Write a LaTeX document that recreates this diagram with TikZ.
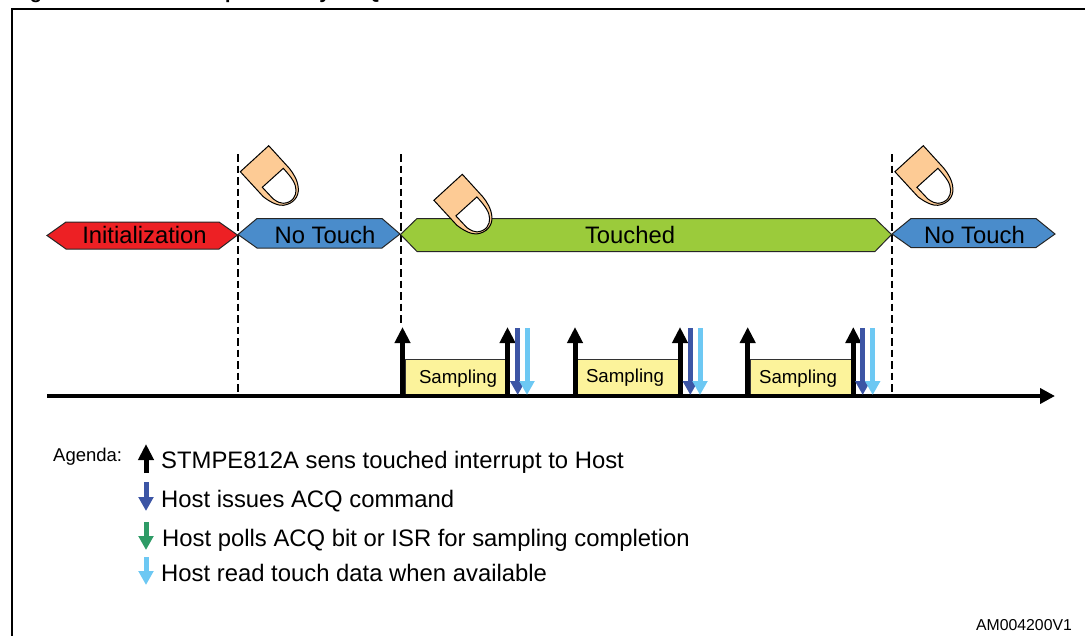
\documentclass[tikz,border=0pt]{standalone}
\usepackage{fontspec}
\setmainfont{Liberation Sans}
\usetikzlibrary{arrows.meta}
\definecolor{redfill}{HTML}{ED2024}
\definecolor{bluefill}{HTML}{4A8CCB}
\definecolor{greenfill}{HTML}{9BCB3B}
\definecolor{skin}{HTML}{FDCB95}
\definecolor{sampfill}{HTML}{FCF39B}
\definecolor{darkb}{HTML}{3C55A5}
\definecolor{lightb}{HTML}{6DC8F3}
\definecolor{greenb}{HTML}{2E9B66}
\tikzset{
  x=1pt,y=-1pt,
  hexa/.style={draw=black!85,line width=1pt,line join=miter},
  dashline/.style={draw=black,line width=1.2pt,dash pattern=on 7.5pt off 4pt},
  upar/.style={draw=black,line width=5pt,-{Triangle[length=16pt,width=15pt]}},
  dnbl/.style={draw=darkb,line width=5pt,-{Triangle[length=14pt,width=14.5pt]}},
  dnlt/.style={draw=lightb,line width=5pt,-{Triangle[length=14pt,width=14.5pt]}},
  dngr/.style={draw=greenb,line width=5pt,-{Triangle[length=14pt,width=14.5pt]}},
  sampbox/.style={fill=sampfill,draw=black!80,line width=.9pt,inner sep=0pt,anchor=north west},
  legend/.style={inner sep=0pt,anchor=base west,font=\fontsize{23.85}{26}\selectfont},
  steplabel/.style={inner sep=0pt,font=\fontsize{23.8}{26}\selectfont},
  samplabel/.style={inner sep=0pt,font=\fontsize{18.7}{22}\selectfont},
  finger/.pic={
    \draw[fill=skin,draw=black,line width=1pt,line join=miter]
      (0,0) -- (-28.4,26) -- (-5.4,51) .. controls (3,57.6) and (10,60) .. (14.6,59.6)
      .. controls (24.6,58.3) and (30.3,51) .. (29.6,42.6)
      .. controls (29,34.3) and (24.6,27.6) .. (20.6,22.6) -- cycle;
    \draw[fill=white,draw=black,line width=1pt,line join=miter]
      (14.6,22.6) -- (-6.4,41.6) -- (4.6,53.3) .. controls (9,56.5) and (12,57.6) .. (14.6,57.6)
      .. controls (24,57) and (27.6,50) .. (27.3,44.3)
      .. controls (27,38) and (24,33) .. (14.6,22.6) -- cycle;
  }
}
\begin{document}
\begin{tikzpicture}
\useasboundingbox (0,0) rectangle (1085,635);
\clip (0,0) rectangle (1085,635);
% title sliver
\node[inner sep=0pt,anchor=base west,font=\bfseries\fontsize{20}{22}\selectfont] (figno) at (12,-1.5) {Figure 9.};
\node[inner sep=0pt,anchor=base west,font=\bfseries\fontsize{20}{22}\selectfont] (figtitle) at (147,-1.5) {Data acquisition by ACQ command};
% frame
\draw[line width=1.5pt,line join=miter] (12,636) -- (12,9) -- (1086,9);
% dashed lines
\coordinate (d1t) at (238,154); \coordinate (d1b) at (238,394);
\coordinate (d2t) at (401,154); \coordinate (d2b) at (401,325);
\coordinate (d3t) at (892,154); \coordinate (d3b) at (892,394);
\draw[dashline] (d1t) -- (d1b);
\draw[dashline] (d2t) -- (d2b);
\draw[dashline] (d3t) -- (d3b);
% phases
\path[hexa,fill=redfill] (47,235.5) -- (66,222) -- (219,222) -- (237.5,235) -- (219,249) -- (66,249) -- cycle;
\path[hexa,fill=bluefill] (238,234.5) -- (257,218.5) -- (382,218.5) -- (400,234) -- (382,248) -- (257,248) -- cycle;
\path[hexa,fill=greenfill] (400.5,234.5) -- (417,218.5) -- (875,218.5) -- (891.5,234.5) -- (875,251.5) -- (417,251.5) -- cycle;
\path[hexa,fill=bluefill] (892,234) -- (911,218.5) -- (1036,218.5) -- (1055,234) -- (1036,247.5) -- (911,247.5) -- cycle;
\node[steplabel] (init) at (144.5,235) {Initialization};
\node[steplabel] (nt1) at (325,235) {No Touch};
\node[steplabel] (touched) at (630,235) {Touched};
\node[steplabel] (nt2) at (974.5,235) {No Touch};
% fingers
\pic at (268.7,145.7) {finger};
\pic at (462.3,174.3) {finger};
\pic at (923.3,145.7) {finger};
% sampling boxes
\node[sampbox,minimum width=101pt,minimum height=36pt] (s1) at (405,358.5) {};
\node[sampbox,minimum width=101pt,minimum height=36pt] (s2) at (577,358.5) {};
\node[sampbox,minimum width=101pt,minimum height=36pt] (s3) at (750,358.5) {};
\node[samplabel] (s1t) at (458,378.5) {Sampling};
\node[samplabel] (s2t) at (625,377.5) {Sampling};
\node[samplabel] (s3t) at (798,378.5) {Sampling};
% time axis
\coordinate (axL) at (47,396); \coordinate (axR) at (1055,396);
\draw[line width=4.6pt,-{Triangle[length=15pt,width=15pt]}] (axL) -- (axR);
% up arrows
\foreach \n/\x in {a/402.5,b/507.5,c/575,d/680,e/747.7,f/853.3}{
  \coordinate (u\n b) at (\x,397); \coordinate (u\n t) at (\x,327);
  \draw[upar] (u\n b) -- (u\n t);
}
% down arrows
\foreach \n/\x in {a/517.7,b/690.3,c/862.7}{
  \coordinate (db\n t) at (\x,328); \coordinate (db\n b) at (\x,395);
  \draw[dnbl] (db\n t) -- (db\n b);
}
\foreach \n/\x in {a/527,b/700,c/872.7}{
  \coordinate (dl\n t) at (\x,328); \coordinate (dl\n b) at (\x,395);
  \draw[dnlt] (dl\n t) -- (dl\n b);
}
% legend
\node[inner sep=0pt,font=\fontsize{18.5}{20}\selectfont,anchor=base west] (agenda) at (53,461) {Agenda:};
\coordinate (l1b) at (146,473); \coordinate (l1t) at (146,444);
\coordinate (l2t) at (146,482); \coordinate (l2b) at (146,511);
\coordinate (l3t) at (146,522); \coordinate (l3b) at (146,550);
\coordinate (l4t) at (146,557); \coordinate (l4b) at (146,585);
\draw[upar] (l1b) -- (l1t);
\draw[dnbl] (l2t) -- (l2b);
\draw[dngr] (l3t) -- (l3b);
\draw[dnlt] (l4t) -- (l4b);
\node[legend] (t1) at (161,468) {STMPE812A sens touched interrupt to Host};
\node[legend] (t2) at (161,507) {Host issues ACQ command};
\node[legend] (t3) at (162,546) {Host polls ACQ bit or ISR for sampling completion};
\node[legend] (t4) at (161,581) {Host read touch data when available};
\node[inner sep=0pt,font=\fontsize{15.8}{18}\selectfont] (code) at (1024,625) {AM004200V1};
\end{tikzpicture}
\end{document}
